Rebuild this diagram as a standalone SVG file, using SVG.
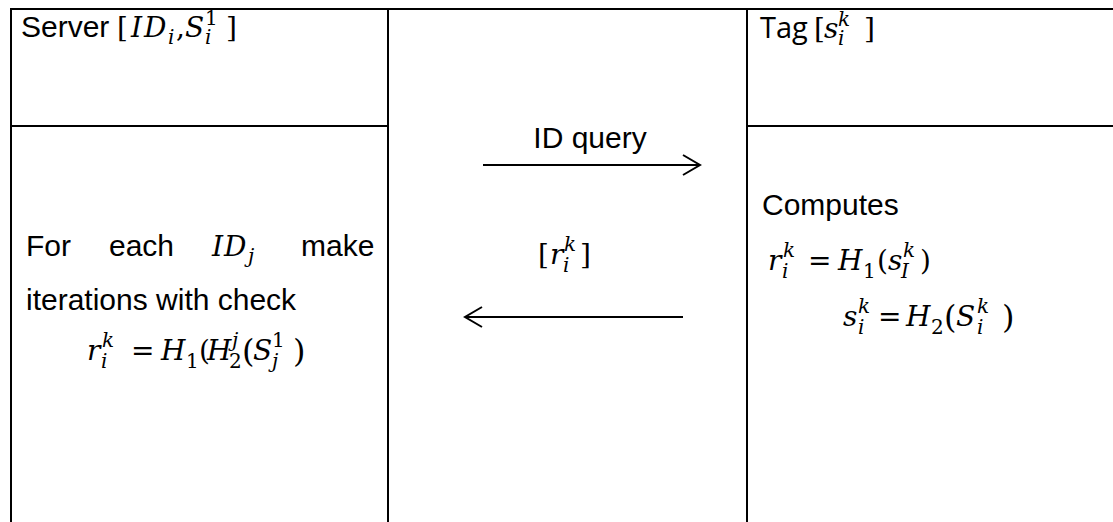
<svg xmlns="http://www.w3.org/2000/svg" width="1113" height="522" viewBox="0 0 1113 522">
  <style>
    .grid { stroke: #000; stroke-width: 2; fill: none; }
    .conn { stroke: #000; stroke-width: 2; fill: none; }
    .txt { font-family: "Liberation Sans", Arial, sans-serif; font-size: 30px; fill: #000; }
    .tag { font-family: "Open Sans", "Noto Sans", sans-serif; font-size: 29px; fill: #000; }
    .m { font-family: "DejaVu Serif", "Liberation Serif", serif; font-style: italic; font-size: 28px; fill: #000; }
    .u { font-style: normal; }
    .s { font-size: 20px; }
    .big { font-size: 32px; }
  </style>
  <defs>
    <marker id="chev" markerUnits="userSpaceOnUse" markerWidth="22" markerHeight="26" viewBox="0 0 22 26" refX="19" refY="13" orient="auto">
      <path d="M2,3 L19,13 L2,23" fill="none" stroke="#000" stroke-width="2"/>
    </marker>
  </defs>
  <rect x="0" y="0" width="1113" height="522" fill="#fff"/>

  <g id="table">
    <line class="grid" x1="10" y1="9" x2="1113" y2="9"/>
    <line class="grid" x1="11" y1="8" x2="11" y2="522"/>
    <line class="grid" x1="388" y1="8" x2="388" y2="522"/>
    <line class="grid" x1="747" y1="8" x2="747" y2="522"/>
    <line class="grid" x1="11" y1="126" x2="388" y2="126"/>
    <line class="grid" x1="747" y1="126" x2="1113" y2="126"/>
  </g>

  <g id="server">
    <text class="txt" x="21" y="37">Server</text>
    <text class="m">
      <tspan class="u" x="117" y="37">[</tspan>
      <tspan x="131" y="37">I</tspan>
      <tspan x="144" y="37">D</tspan>
      <tspan class="s" x="168" y="44">i</tspan>
      <tspan class="u" x="176" y="37">,</tspan>
      <tspan x="185" y="37">S</tspan>
      <tspan class="u s" x="205" y="25">1</tspan>
      <tspan class="s" x="205" y="44">i</tspan>
      <tspan class="u" x="226" y="37">]</tspan>
    </text>
    <text class="txt" y="256"><tspan x="26">For</tspan><tspan x="109">each</tspan><tspan x="301">make</tspan></text>
    <text class="m">
      <tspan x="212" y="256">I</tspan>
      <tspan x="224" y="256">D</tspan>
      <tspan class="s" x="248" y="263">j</tspan>
    </text>
    <text class="txt" x="26" y="310">iterations with check</text>
    <text class="m">
      <tspan x="87" y="360">r</tspan>
      <tspan class="s" x="102" y="347">k</tspan>
      <tspan class="s" x="101" y="368">i</tspan>
      <tspan class="u" x="131" y="360">=</tspan>
      <tspan x="161" y="360">H</tspan>
      <tspan class="u s" x="186" y="368">1</tspan>
      <tspan class="u" x="199" y="360">(</tspan>
      <tspan x="207" y="360">H</tspan>
      <tspan class="s" x="232" y="347">j</tspan>
      <tspan class="u s" x="229" y="368">2</tspan>
      <tspan class="u big" x="242" y="362">(</tspan>
      <tspan x="253" y="360">S</tspan>
      <tspan class="u s" x="272" y="347">1</tspan>
      <tspan class="s" x="272" y="368">j</tspan>
      <tspan class="u big" x="293" y="362">)</tspan>
    </text>
  </g>

  <g id="channel">
    <text class="txt" x="590" y="148" text-anchor="middle">ID query</text>
    <text class="m">
      <tspan class="u" x="538" y="264">[</tspan>
      <tspan x="550" y="264">r</tspan>
      <tspan class="s" x="564" y="251">k</tspan>
      <tspan class="s" x="563" y="272">i</tspan>
      <tspan class="u" x="580" y="264">]</tspan>
    </text>
  </g>

  <g id="tag">
    <text class="tag" x="760" y="38">Tag</text>
    <text class="m">
      <tspan class="u" x="814" y="38">[</tspan>
      <tspan x="824" y="38">s</tspan>
      <tspan class="s" x="838" y="26">k</tspan>
      <tspan class="s" x="838" y="45">i</tspan>
      <tspan class="u" x="864" y="38">]</tspan>
    </text>
    <text class="txt" x="762" y="215">Computes</text>
    <text class="m">
      <tspan x="768" y="270">r</tspan>
      <tspan class="s" x="783" y="257">k</tspan>
      <tspan class="s" x="782" y="278">i</tspan>
      <tspan class="u" x="808" y="270">=</tspan>
      <tspan x="838" y="270">H</tspan>
      <tspan class="u s" x="863" y="278">1</tspan>
      <tspan class="u" x="877" y="270">(</tspan>
      <tspan x="888" y="270">s</tspan>
      <tspan class="s" x="903" y="257">k</tspan>
      <tspan class="s" x="901" y="278">I</tspan>
      <tspan class="u" x="920" y="270">)</tspan>
    </text>
    <text class="m">
      <tspan x="843" y="326">s</tspan>
      <tspan class="s" x="858" y="313">k</tspan>
      <tspan class="s" x="858" y="334">i</tspan>
      <tspan class="u" x="878" y="326">=</tspan>
      <tspan x="906" y="326">H</tspan>
      <tspan class="u s" x="931" y="334">2</tspan>
      <tspan class="u big" x="944" y="328">(</tspan>
      <tspan x="956" y="326">S</tspan>
      <tspan class="s" x="977" y="313">k</tspan>
      <tspan class="s" x="977" y="334">i</tspan>
      <tspan class="u big" x="1002" y="328">)</tspan>
    </text>
  </g>

  <g id="connectors">
    <line class="conn" x1="483" y1="165" x2="700" y2="165" marker-end="url(#chev)"/>
    <line class="conn" x1="683" y1="317" x2="465" y2="317" marker-end="url(#chev)"/>
  </g>
</svg>
